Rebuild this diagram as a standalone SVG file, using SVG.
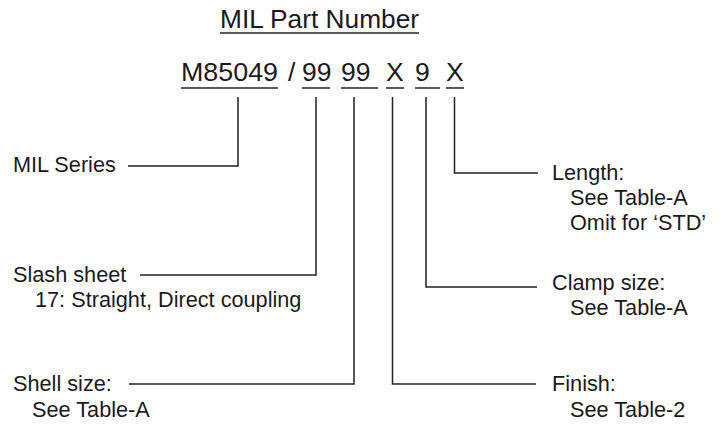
<svg xmlns="http://www.w3.org/2000/svg" width="723" height="425" viewBox="0 0 723 425">
<style>
text{font-family:"Liberation Sans",Arial,sans-serif;fill:#1a1a1a}
.big{font-size:26.5px}
.lbl{font-size:21.7px}
.ln{stroke:#222;stroke-width:1.5;fill:none}
</style>
<rect width="723" height="425" fill="#fff"/>
<g id="title">
<text class="big" x="220" y="28" textLength="199" lengthAdjust="spacingAndGlyphs">MIL Part Number</text>
<line class="ln" x1="220" y1="33" x2="419" y2="33"/>
</g>
<g id="partnumber">
<text class="big" x="181" y="81" textLength="97" lengthAdjust="spacingAndGlyphs">M85049</text>
<text class="big" x="288" y="81">/</text>
<text class="big" x="302" y="81">99</text>
<text class="big" x="341" y="81">99</text>
<text class="big" x="386" y="81">X</text>
<text class="big" x="415" y="81">9</text>
<text class="big" x="446" y="81">X</text>
<line class="ln" x1="181" y1="88" x2="278" y2="88"/>
<line class="ln" x1="302" y1="88" x2="330" y2="88"/>
<line class="ln" x1="341" y1="88" x2="378" y2="88"/>
<line class="ln" x1="386" y1="88" x2="404" y2="88"/>
<line class="ln" x1="415" y1="88" x2="440" y2="88"/>
<line class="ln" x1="446" y1="88" x2="464" y2="88"/>
</g>
<g id="connectors">
<polyline class="ln" points="238,97 238,166 128,166"/>
<polyline class="ln" points="316,97 316,275 140,275"/>
<polyline class="ln" points="354,97 354,384 129,384"/>
<polyline class="ln" points="392.5,97 392.5,384 536,384"/>
<polyline class="ln" points="426,97 426,287 537,287"/>
<polyline class="ln" points="454.5,97 454.5,173 538,173"/>
</g>
<g id="mil-series">
<text class="lbl" x="13" y="172">MIL Series</text>
</g>
<g id="slash-sheet">
<text class="lbl" x="13" y="282">Slash sheet</text>
<text class="lbl" x="35" y="307">17: Straight, Direct coupling</text>
</g>
<g id="shell-size">
<text class="lbl" x="13" y="391">Shell size:</text>
<text class="lbl" x="32" y="417">See Table-A</text>
</g>
<g id="finish">
<text class="lbl" x="552" y="391">Finish:</text>
<text class="lbl" x="570" y="417">See Table-2</text>
</g>
<g id="clamp-size">
<text class="lbl" x="552" y="290">Clamp size:</text>
<text class="lbl" x="570" y="315">See Table-A</text>
</g>
<g id="length">
<text class="lbl" x="552" y="180">Length:</text>
<text class="lbl" x="570" y="205">See Table-A</text>
<text class="lbl" x="570" y="230">Omit for ‘STD’</text>
</g>
</svg>
